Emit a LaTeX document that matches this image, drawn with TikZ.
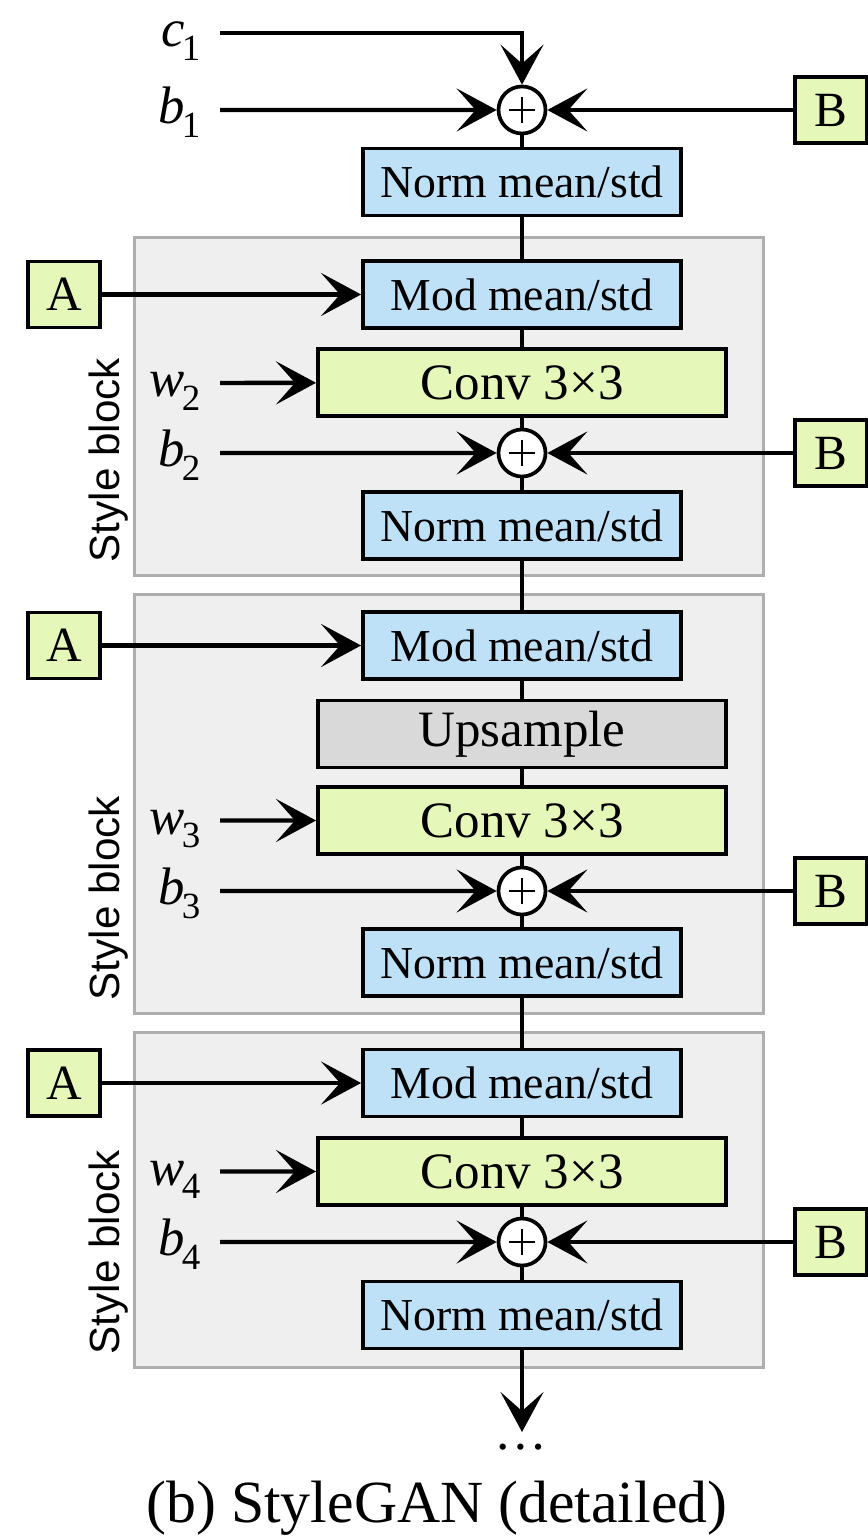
\documentclass[tikz,border=0pt]{standalone}
\usepackage{fontspec}
\setmainfont{Liberation Serif}
\setsansfont{Liberation Sans}
\usetikzlibrary{arrows.meta}

\definecolor{boxblue}{HTML}{BEE1F8}
\definecolor{boxgreen}{HTML}{E5F7B9}
\definecolor{boxgray}{HTML}{D9D9D9}
\definecolor{blockfill}{HTML}{EFEFEF}
\definecolor{blockedge}{HTML}{AEAEAE}

% italic variable with a lowered numeric index
\newcommand\varidx[2]{\textit{#1}\kern-0.8pt\raisebox{-0.26em}{\fontsize{10.5pt}{12pt}\selectfont #2}}

\begin{document}
\begin{tikzpicture}[x=0.01cm, y=-0.01cm,
  box/.style={draw, line width=1.05pt, inner sep=0pt, minimum height=0.67cm},
  normbox/.style={box, fill=boxblue, minimum width=3.18cm, font=\fontsize{13pt}{15pt}\selectfont},
  convbox/.style={box, fill=boxgreen, minimum width=4.08cm, font=\fontsize{14.5pt}{17pt}\selectfont},
  upbox/.style={box, fill=boxgray, minimum width=4.08cm, font=\fontsize{14.5pt}{17pt}\selectfont},
  abbox/.style={box, fill=boxgreen, minimum width=0.72cm, minimum height=0.66cm, font=\fontsize{14pt}{16pt}\selectfont},
  blockbg/.style={draw=blockedge, fill=blockfill, line width=0.9pt, inner sep=0pt},
  blocklabel/.style={rotate=90, anchor=base west, inner sep=0pt, font=\sffamily\fontsize{12pt}{14pt}\selectfont},
  inlabel/.style={anchor=base east, inner sep=0pt, font=\fontsize{15pt}{17pt}\selectfont},
  sumnode/.style={circle, draw, fill=white, line width=1.05pt, minimum size=0.47cm, inner sep=0pt,
    path picture={
      \draw[line width=0.6pt] ([xshift=-0.13cm]path picture bounding box.center) -- ([xshift=0.13cm]path picture bounding box.center);
      \draw[line width=0.6pt] ([yshift=-0.13cm]path picture bounding box.center) -- ([yshift=0.13cm]path picture bounding box.center);
    }},
  link/.style={line width=1.2pt},
  arr/.style={line width=1.25pt, -{Stealth[length=0.4cm, width=0.43cm, inset=0.19cm]}},
]
\useasboundingbox (0,0) rectangle (867,1540);

% style block backgrounds
\node[blockbg, minimum width=6.28cm, minimum height=3.37cm] (blk1) at (449,406.5) {};
\node[blockbg, minimum width=6.28cm, minimum height=4.18cm] (blk2) at (449,804) {};
\node[blockbg, minimum width=6.28cm, minimum height=3.34cm] (blk3) at (449,1200) {};
\node[blocklabel] (sb1) at (119,563) {Style block};
\node[blocklabel] (sb2) at (119,1001) {Style block};
\node[blocklabel] (sb3) at (119,1355) {Style block};

% main column
\node[sumnode] (o1) at (522,110) {};
\node[normbox] (n1) at (522,182) {Norm mean/std};

\node[normbox] (m1) at (522,294.5) {Mod mean/std};
\node[convbox] (k1) at (522,382.5) {Conv 3×3};
\node[sumnode] (o2) at (522,453) {};
\node[normbox] (n2) at (522,525.5) {Norm mean/std};

\node[normbox] (m2) at (522,645.5) {Mod mean/std};
\node[upbox]   (up) at (522,734) {Upsample};
\node[convbox] (k2) at (522,820.5) {Conv 3×3};
\node[sumnode] (o3) at (522,891) {};
\node[normbox] (n3) at (522,962.5) {Norm mean/std};

\node[normbox] (m3) at (522,1083) {Mod mean/std};
\node[convbox] (k3) at (522,1171.5) {Conv 3×3};
\node[sumnode] (o4) at (522,1242) {};
\node[normbox] (n4) at (522,1315) {Norm mean/std};

\coordinate (out) at (522,1432);
\node[anchor=base, inner sep=0pt, font=\fontsize{15pt}{17pt}\selectfont] (dots) at (521,1449) {…};

% style inputs A and noise inputs B
\node[abbox] (a1) at (64,294.5) {A};
\node[abbox] (a2) at (64,645.5) {A};
\node[abbox] (a3) at (64,1083) {A};
\node[abbox] (bb1) at (831,110) {B};
\node[abbox] (bb2) at (831,453) {B};
\node[abbox] (bb3) at (831,891) {B};
\node[abbox] (bb4) at (831,1242) {B};

% side labels
\node[inlabel] (c1) at (201,46.5) {\varidx{c}{1}};
\node[inlabel] (b1) at (201,123.5) {\varidx{b}{1}};
\node[inlabel] (w2) at (201,396.5) {\varidx{w}{2}};
\node[inlabel] (b2) at (201,466.5) {\varidx{b}{2}};
\node[inlabel] (w3) at (201,834) {\varidx{w}{3}};
\node[inlabel] (b3) at (201,904.5) {\varidx{b}{3}};
\node[inlabel] (w4) at (201,1185) {\varidx{w}{4}};
\node[inlabel] (b4) at (201,1255.5) {\varidx{b}{4}};

% vertical data path
\draw[link] (o1) -- (n1) -- (m1) -- (k1) -- (o2) -- (n2) -- (m2) -- (up) -- (k2) -- (o3) -- (n3) -- (m3) -- (k3) -- (o4) -- (n4);
\draw[arr] (n4) -- (out);

% constant and bias inputs
\draw[arr] ([xshift=0.19cm,yshift=0.135cm]c1.base east) -| (o1);
\draw[arr] ([xshift=0.19cm,yshift=0.135cm]b1.base east) -- (o1);
\draw[arr] ([xshift=0.19cm,yshift=0.135cm]b2.base east) -- (o2);
\draw[arr] ([xshift=0.19cm,yshift=0.135cm]b3.base east) -- (o3);
\draw[arr] ([xshift=0.19cm,yshift=0.135cm]b4.base east) -- (o4);

% weights into the convolutions
\draw[arr] ([xshift=0.19cm,yshift=0.135cm]w2.base east) -- (k1);
\draw[arr] ([xshift=0.19cm,yshift=0.135cm]w3.base east) -- (k2);
\draw[arr] ([xshift=0.19cm,yshift=0.135cm]w4.base east) -- (k3);

% A into modulation, B into the sums
\draw[arr] (a1) -- (m1);
\draw[arr] (a2) -- (m2);
\draw[arr] (a3) -- (m3);
\draw[arr] (bb1) -- (o1);
\draw[arr] (bb2) -- (o2);
\draw[arr] (bb3) -- (o3);
\draw[arr] (bb4) -- (o4);

% caption
\node[font=\fontsize{17pt}{20pt}\selectfont] (cap) at (437,1508) {(b) StyleGAN (detailed)};
\end{tikzpicture}
\end{document}
